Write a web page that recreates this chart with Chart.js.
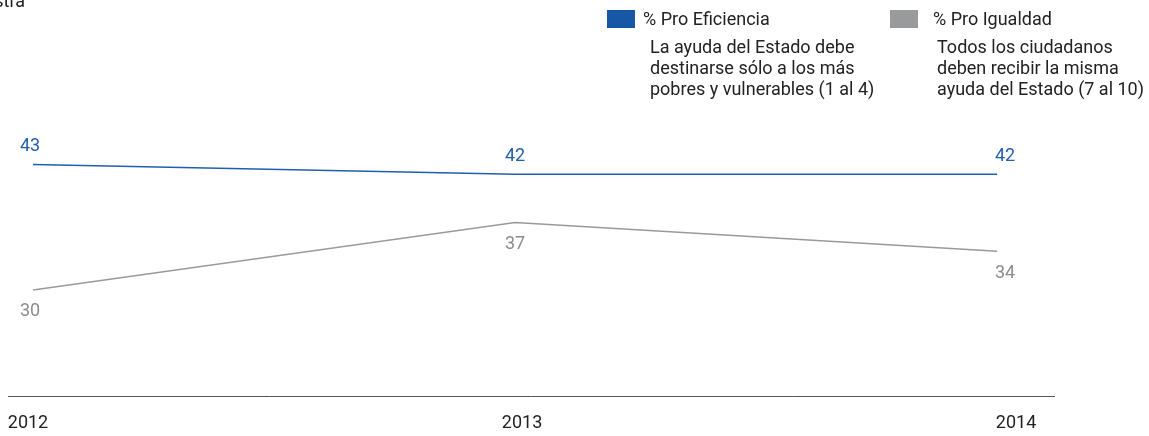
<!DOCTYPE html>
<html><head><meta charset="utf-8">
<script src="https://cdn.jsdelivr.net/npm/chart.js@4/dist/chart.umd.min.js"></script>
<style>
html,body{margin:0;padding:0;background:#fff;}
body{width:1149px;height:436px;position:relative;overflow:hidden;font-family:Roboto,"Liberation Sans",sans-serif;color:#222;}
#c{position:absolute;left:0;top:0;}
.lg{position:absolute;font-size:18px;line-height:21px;white-space:nowrap;}
.sw{position:absolute;width:28px;height:18px;}
</style></head><body>
<canvas id="c" width="1149" height="436"></canvas>
<div class="lg" style="left:-200px;top:-10px;width:225px;text-align:right;">Total muestra</div>
<div class="sw" style="left:607px;top:10px;background:#1757a6;"></div>
<div class="lg" style="left:643px;top:8px;">% Pro Eficiencia</div>
<div class="lg" style="left:650px;top:36px;">La ayuda del Estado debe<br>destinarse sólo a los más<br>pobres y vulnerables (1 al 4)</div>
<div class="sw" style="left:890px;top:10px;background:#999a9c;"></div>
<div class="lg" style="left:933px;top:8px;">% Pro Igualdad</div>
<div class="lg" style="left:937px;top:36px;">Todos los ciudadanos<br>deben recibir la misma<br>ayuda del Estado (7 al 10)</div>
<script>
const years = [2012, 2013, 2014];
const proEficiencia = [43, 42, 42];
const proIgualdad = [30, 37, 34];

const FONT = 'Roboto, "Liberation Sans", sans-serif';

const labelPlugin = {
  id: 'valLabels',
  afterDatasetsDraw(chart) {
    const ctx = chart.ctx;
    ctx.save();
    ctx.font = '18px ' + FONT;
    ctx.textAlign = 'center';
    ctx.textBaseline = 'middle';
    chart.data.datasets.forEach((ds, di) => {
      const meta = chart.getDatasetMeta(di);
      meta.data.forEach((pt, i) => {
        const dx = i === 0 ? -3 : (i === ds.data.length - 1 ? 8 : 0);
        const dy = di === 0 ? -18 : 22;
        ctx.fillStyle = di === 0 ? '#1f5fae' : '#8c8c8c';
        ctx.fillText(String(ds.data[i].y), pt.x + dx, pt.y + dy);
      });
    });
    ctx.restore();
  }
};

new Chart(document.getElementById('c'), {
  type: 'line',
  data: {
    datasets: [
      { label: '% Pro Eficiencia', data: years.map((x, i) => ({x, y: proEficiencia[i]})), borderColor: '#1f5fae', borderWidth: 1.5, pointRadius: 0, tension: 0, xAxisID: 'xd' },
      { label: '% Pro Igualdad', data: years.map((x, i) => ({x, y: proIgualdad[i]})), borderColor: '#999a9c', borderWidth: 1.5, pointRadius: 0, tension: 0, xAxisID: 'xd' }
    ]
  },
  options: {
    responsive: false,
    animation: false,
    layout: { padding: { left: 8, right: 95, top: 126, bottom: 1 } },
    plugins: { legend: { display: false }, tooltip: { enabled: false } },
    scales: {
      xd: { type: 'linear', display: false, min: 2011.948, max: 2014.118 },
      x: {
        type: 'linear', position: 'bottom', min: 2011.9595, max: 2014.0769,
        afterBuildTicks: (ax) => { ax.ticks = years.map(v => ({value: v})); },
        afterFit: (ax) => { ax.height = 39; ax.paddingLeft = 0; ax.paddingRight = 0; },
        ticks: { font: { size: 18, family: FONT }, color: '#222', padding: 17, maxRotation: 0, autoSkip: false, callback: v => String(v) },
        grid: { display: false, drawTicks: false },
        border: { display: true, color: '#555', width: 1 }
      },
      y: { display: false, min: 19, max: 47 }
    }
  },
  plugins: [labelPlugin]
});
</script>
</body></html>
